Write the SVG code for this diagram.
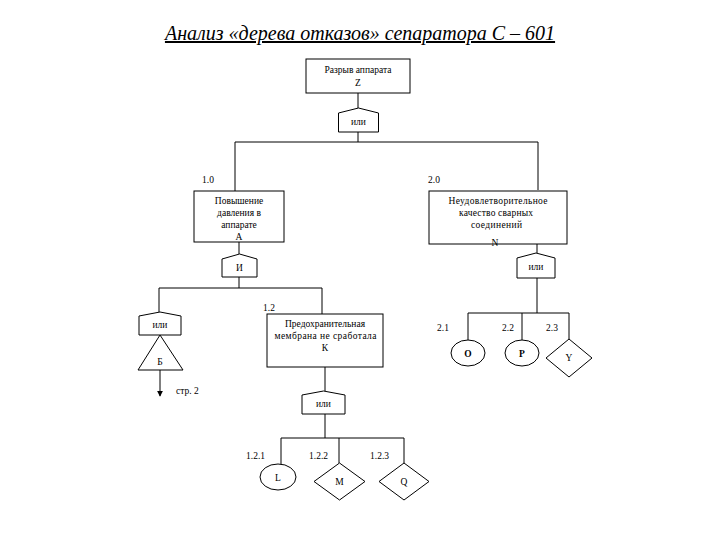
<svg xmlns="http://www.w3.org/2000/svg" width="720" height="540" viewBox="0 0 720 540">
<style>
.s{fill:#fff;stroke:#000;stroke-width:1}
.l{fill:none;stroke:#000;stroke-width:1}
text{font-family:"Liberation Serif","Times New Roman",serif;fill:#000}
.t{font-size:9.5px;text-anchor:middle}
.n{font-size:9.5px}
.b{font-size:9.5px;text-anchor:middle;font-weight:bold}
</style>
<defs>
<marker id="ah" viewBox="0 0 8 8" refX="7" refY="4" markerWidth="6" markerHeight="6" orient="auto">
<path d="M0,0 L8,4 L0,8 Z" fill="#000"/>
</marker>
</defs>
<rect width="720" height="540" fill="#fff"/>
<text x="360" y="40" text-anchor="middle" font-size="20" font-style="italic" text-decoration="underline">Анализ «дерева отказов» сепаратора С – 601</text>

<g id="connectors">
<path class="l" d="M358,93V108M358,132V142M235,142H538M235,142V192M538,142V190M239,242V254M537,244V253M239,277V288M159,288H322M159,288V312M322,288V314M325,367V391M537,278V313M468,313H569M468,313V340M522,313V340M569,313V339M325,414V438M281,438H404M281,438V464M339,438V463M404,438V463"/>
<path class="l" d="M160,370V396" marker-end="url(#ah)"/>
</g>

<g id="Z">
<rect class="s" x="306" y="59" width="104" height="34"/>
<text class="t" x="358" y="73">Разрыв аппарата</text>
<text class="t" x="358" y="86">Z</text>
</g>
<g id="gate1">
<path class="s" d="M338.5,113L358.5,108L378.5,113V132H338.5Z"/>
<text class="t" x="358.5" y="125">или</text>
</g>

<g id="A">
<text class="n" x="202" y="183">1.0</text>
<rect class="s" x="194" y="191" width="90" height="51"/>
<text class="t" x="239" y="204">Повышение</text>
<text class="t" x="239" y="216">давления в</text>
<text class="t" x="239" y="228">аппарате</text>
<text class="t" x="239" y="240">А</text>
</g>
<g id="gateI">
<path class="s" d="M222,259L239.5,254L257,259V277H222Z"/>
<text class="t" x="239.5" y="271">И</text>
</g>

<g id="N">
<text class="n" x="428" y="183">2.0</text>
<rect class="s" x="429" y="191" width="138" height="53"/>
<text class="t" x="498" y="204" textLength="99" lengthAdjust="spacing">Неудовлетворительное</text>
<text class="t" x="496" y="216" textLength="74" lengthAdjust="spacing">качество сварных</text>
<text class="t" x="496.5" y="228" textLength="51" lengthAdjust="spacing">соединений</text>
<text class="t" x="495" y="246">N</text>
</g>
<g id="gateN">
<path class="s" d="M517,258L536,253L555,258V278H517Z"/>
<text class="t" x="536" y="270">или</text>
</g>

<g id="gateB">
<path class="s" d="M139,316L160,312L181,316V335H139Z"/>
<text class="t" x="160" y="328">или</text>
</g>
<g id="B">
<path class="s" d="M160,335L183,370H138Z"/>
<text class="t" x="160" y="365">Б</text>
<text class="n" x="176" y="394">стр. 2</text>
</g>

<g id="K">
<text class="n" x="263" y="311">1.2</text>
<rect class="s" x="267" y="314" width="116" height="53"/>
<text class="t" x="325" y="327">Предохранительная</text>
<text class="t" x="325.5" y="339" textLength="102" lengthAdjust="spacing">мембрана не сработала</text>
<text class="t" x="325" y="351">К</text>
</g>
<g id="gateK">
<path class="s" d="M302,395L323.5,391L345,395V414H302Z"/>
<text class="t" x="323.5" y="407">или</text>
</g>

<g id="O">
<text class="n" x="437" y="331">2.1</text>
<ellipse class="s" cx="468" cy="353" rx="17" ry="13"/>
<text class="b" x="468" y="357">О</text>
</g>
<g id="P">
<text class="n" x="502" y="331">2.2</text>
<ellipse class="s" cx="522" cy="353" rx="17" ry="13"/>
<text class="b" x="522" y="357">Р</text>
</g>
<g id="Y">
<text class="n" x="546" y="331">2.3</text>
<path class="s" d="M569,339L592,358L569,377L546,358Z"/>
<text class="t" x="569" y="361">Y</text>
</g>

<g id="L">
<text class="n" x="246" y="459">1.2.1</text>
<ellipse class="s" cx="278" cy="477" rx="18" ry="13"/>
<text class="t" x="278" y="481">L</text>
</g>
<g id="M">
<text class="n" x="309" y="459">1.2.2</text>
<path class="s" d="M339.5,463L365,481.5L339.5,500L314,481.5Z"/>
<text class="t" x="339.5" y="485">M</text>
</g>
<g id="Q">
<text class="n" x="370" y="459">1.2.3</text>
<path class="s" d="M404,463L429,481.5L404,500L379,481.5Z"/>
<text class="t" x="404" y="485">Q</text>
</g>
</svg>
